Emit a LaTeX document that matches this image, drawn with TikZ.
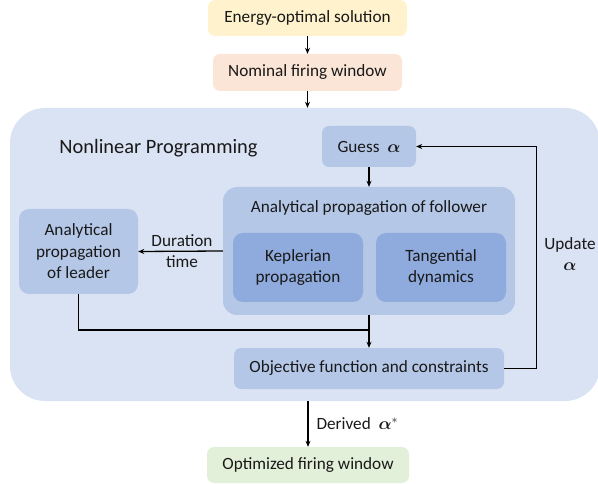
\documentclass[tikz,border=0pt]{standalone}
\usepackage{amsmath,bm}
\usepackage{fontspec}
\setmainfont{Carlito}
\usetikzlibrary{arrows.meta}

\definecolor{energyfill}{HTML}{FFF2CC}
\definecolor{nominalfill}{HTML}{FBE5D6}
\definecolor{nlpfill}{HTML}{DAE3F3}
\definecolor{boxfill}{HTML}{B4C7E7}
\definecolor{innerfill}{HTML}{8FAADC}
\definecolor{optfill}{HTML}{E2F0D9}

\begin{document}
\begin{tikzpicture}[x=1pt,y=-1pt,
  every node/.style={font=\fontsize{17.2}{21.5}\selectfont, text=black!90},
  blk/.style={rounded corners=7pt, inner sep=0pt, align=center},
  arr/.style={-{Stealth[length=6pt,width=5pt]}, line width=1.3pt}]
\useasboundingbox (0,0) rectangle (598,484);

% outer frame
\node[blk, fill=nlpfill, rounded corners=35pt, minimum width=590pt, minimum height=293pt] (nlp) at (305,254.5) {};
\node[font=\fontsize{20.4}{24}\selectfont] (nlptitle) at (158.5,148) {Nonlinear Programming};

\node[blk, fill=energyfill, minimum width=199pt, minimum height=36pt] (energy) at (307.5,18) {Energy-optimal solution};
\node[blk, fill=nominalfill, minimum width=189pt, minimum height=37pt] (nominal) at (307.5,72.5) {Nominal firing window};

\node[blk, fill=boxfill, minimum width=94pt, minimum height=41pt] (guess) at (369,146.5) {Guess~~$\boldsymbol{\alpha}$};
\node[blk, fill=boxfill, rounded corners=14pt, minimum width=292pt, minimum height=128pt] (apf) at (369,251) {};
\node (apftitle) at (369,208) {Analytical propagation of follower};
\node[blk, fill=innerfill, rounded corners=10pt, minimum width=130pt, minimum height=69pt] (kep) at (298,267.5) {Keplerian\\propagation};
\node[blk, fill=innerfill, rounded corners=10pt, minimum width=130pt, minimum height=69pt] (tan) at (441,267.5) {Tangential\\dynamics};
\node[blk, fill=boxfill, rounded corners=10pt, minimum width=119pt, minimum height=85pt] (leader) at (78.5,251.5) {Analytical\\propagation\\of leader};
\node[blk, fill=boxfill, minimum width=270pt, minimum height=41pt] (obj) at (369,368.5) {Objective function and constraints};

\node[blk, fill=optfill, minimum width=202pt, minimum height=36pt] (opt) at (308,465) {Optimized firing window};

% labels
\node[align=center] (dur) at (182,251) {Duration\\time};
\node[align=center] (upd) at (570,254) {Update\\$\boldsymbol{\alpha}$};
\node[anchor=west] (der) at (313,424) {Derived~~$\boldsymbol{\alpha}^{*}$};

% connectors
\coordinate (join) at (369,330);
\draw[arr] (energy) -- (nominal);
\draw[arr] (nominal) -- (nominal.south |- nlp.north);
\draw[arr] (guess) -- (apf);
\draw[arr] (apf.west) -- (leader.east);
\draw[line width=1.3pt] (leader.south) |- (join);
\draw[arr] (apf.south) -- (obj.north);
\draw[arr] (obj.east) -- ++(32,0) |- (guess.east);
\draw[arr] (opt.north |- nlp.south) -- (opt.north);
\end{tikzpicture}
\end{document}
